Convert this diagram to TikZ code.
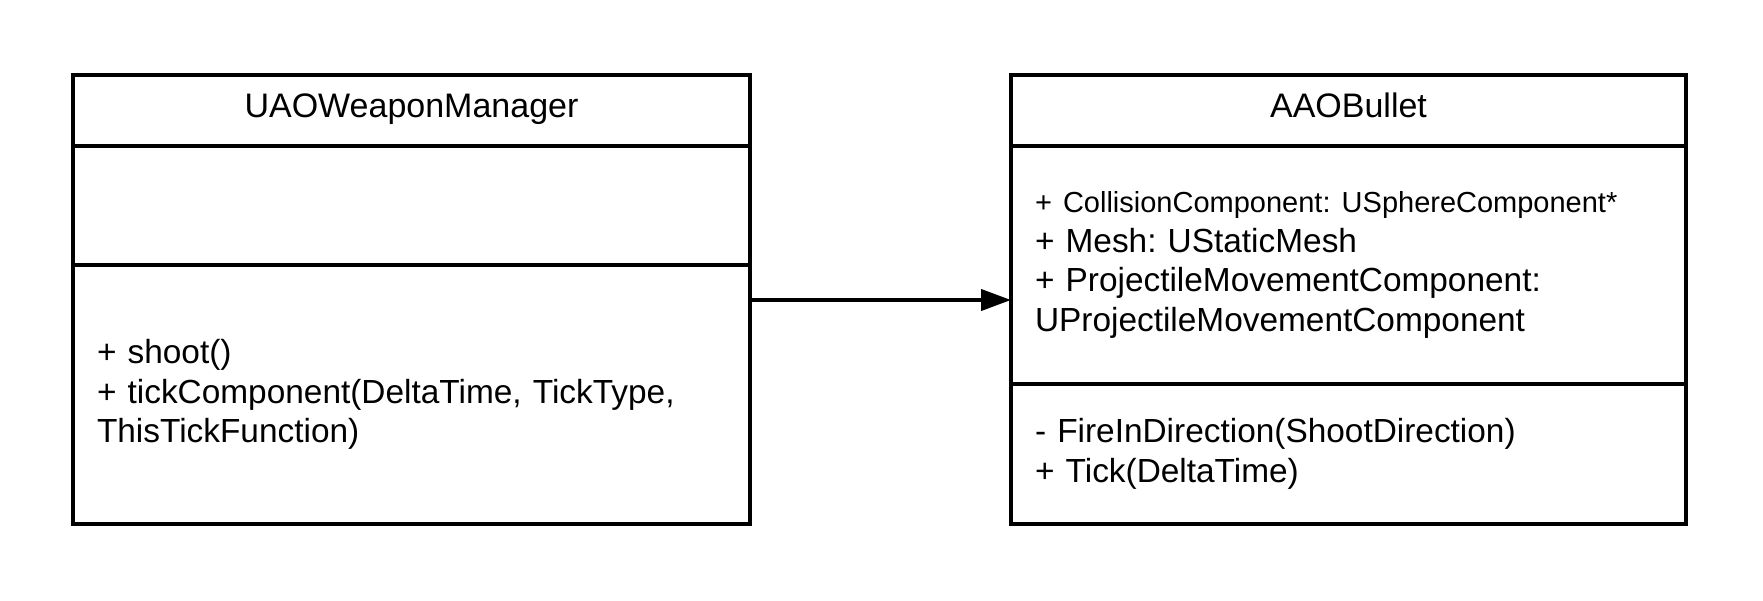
\documentclass[tikz,border=0pt]{standalone}
\usepackage{fontspec}
\setmainfont{Liberation Sans}
\frenchspacing
\usetikzlibrary{arrows.meta,positioning}

\begin{document}
\begin{tikzpicture}[x=1pt,y=-1pt,node distance=0pt,>={Triangle[length=30pt,width=21pt]},
	part/.style={draw=black,rectangle,line width=4pt,outer sep=0pt,inner xsep=24pt,inner ysep=0pt,align=left,font=\fontsize{33.4}{39.5}\selectfont},
	head/.style={part,align=center,minimum height=71pt,text height=25pt,text depth=12pt,font=\fontsize{34}{40}\selectfont}]

\useasboundingbox (0,0) rectangle (1763,600);

\node[head,text width=629pt,anchor=north west] (wm) at (73,75) {UAOWeaponManager};
\node[part,text width=629pt,minimum height=119pt] (wmattr) [below=of wm] {};
\node[part,text width=629pt,minimum height=259pt] (wmops) [below=of wmattr] {+ shoot()\\+ tickComponent(DeltaTime, TickType,\\ThisTickFunction)};

\node[head,text width=627pt,anchor=north west] (bullet) at (1011,75) {AAOBullet};
\node[part,text width=627pt,minimum height=238pt] (bulletattr) [below=of bullet] {{\fontsize{29}{39.5}\selectfont + CollisionComponent: USphereComponent*}\\+ Mesh: UStaticMesh\\+ ProjectileMovementComponent:\\UProjectileMovementComponent};
\node[part,text width=627pt,minimum height=140pt] (bulletops) [below=of bulletattr] {- FireInDirection(ShootDirection)\\+ Tick(DeltaTime)};

\coordinate (tail) at ([yshift=-35pt]wmops.north east);
\draw[->,line width=4pt] (tail) -- (tail -| bulletattr.west);

\end{tikzpicture}
\end{document}
